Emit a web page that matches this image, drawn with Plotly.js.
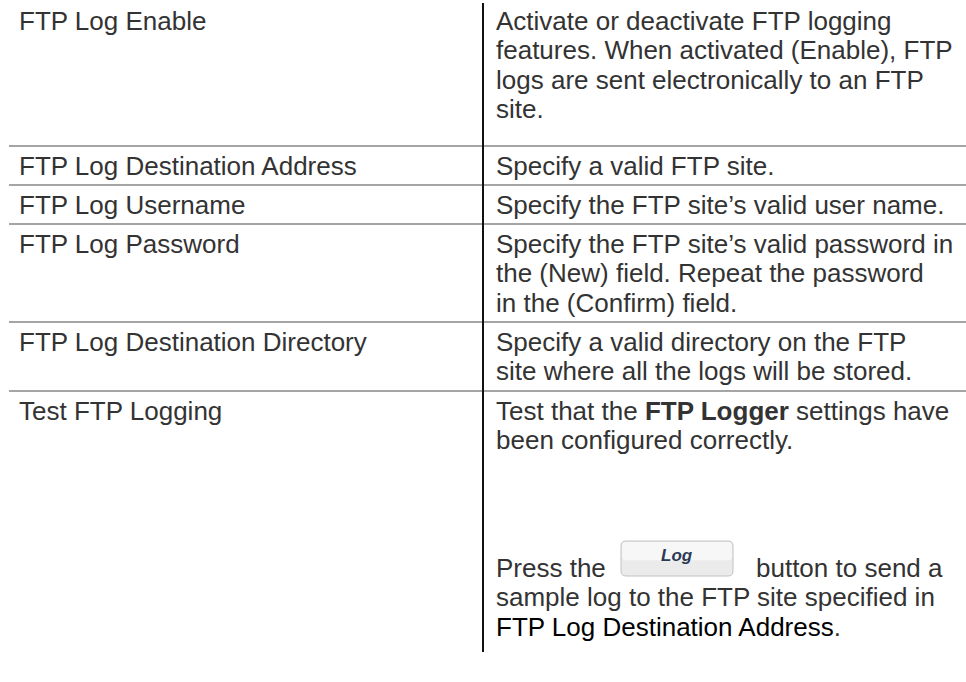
<!DOCTYPE html>
<html>
<head>
<meta charset="utf-8">
<script src="https://cdn.plot.ly/plotly-3.0.1.min.js"></script>
<style>
  html, body { margin: 0; padding: 0; background: #ffffff; }
  #chart { width: 966px; height: 682px; }
</style>
</head>
<body>
<div id="chart"></div>
<script>
// ---- data ----
const parameters = [
  "FTP Log Enable",
  "FTP Log Destination Address",
  "FTP Log Username",
  "FTP Log Password",
  "FTP Log Destination Directory",
  "Test FTP Logging"
];
const descEnable = [
  "Activate or deactivate FTP logging",
  "features. When activated (Enable), FTP",
  "logs are sent electronically to an FTP",
  "site."
];
const descAddress = ["Specify a valid FTP site."];
const descUsername = ["Specify the FTP site\u2019s valid user name."];
const descPassword = [
  "Specify the FTP site\u2019s valid password in",
  "the (New) field. Repeat the password",
  "in the (Confirm) field."
];
const descDirectory = [
  "Specify a valid directory on the FTP",
  "site where all the logs will be stored."
];
const descTest = [
  "Test that the <b>FTP Logger</b> settings have",
  "been configured correctly.",
  "",
  "",
  "",
  "Press the [Log] button to send a",
  "sample log to the FTP site specified in",
  "<span style=\"color:#000000\">FTP Log Destination Address</span>."
];
const descriptions = [descEnable, descAddress, descUsername, descPassword, descDirectory, descTest];
const buttonLabel = "Log";

// ---- layout constants (positions / styles) ----
const W = 966, H = 682;
const FONT = "Liberation Sans, Arial, Helvetica, sans-serif";
const FS = 26;
const TXT = "#333333";
const leftX = 18, rightX = 495;
const lineH = 29.4;
const rowTop = [1, 146, 185, 224, 322, 391];
const firstOffset = 20;
const sepX0 = 9;
const vLineX = 483, vLineY0 = 3, vLineY1 = 652;
const btnExtra = 10;
const btnX0 = 621, btnX1 = 733, btnH = 35, btnR = 5;
const afterBtnX = 755;

const annotations = [];
const shapes = [];

function addText(x, y, text, opts) {
  annotations.push(Object.assign({
    x: x, y: y, xref: "x", yref: "y",
    text: text, showarrow: false,
    xanchor: "left", yanchor: "middle",
    align: "left",
    font: { family: FONT, size: FS, color: TXT },
    borderpad: 0
  }, opts || {}));
}

function roundedRect(x0, y0, x1, y1, r) {
  return "M" + (x0 + r) + "," + y0 +
    " L" + (x1 - r) + "," + y0 +
    " Q" + x1 + "," + y0 + " " + x1 + "," + (y0 + r) +
    " L" + x1 + "," + (y1 - r) +
    " Q" + x1 + "," + y1 + " " + (x1 - r) + "," + y1 +
    " L" + (x0 + r) + "," + y1 +
    " Q" + x0 + "," + y1 + " " + x0 + "," + (y1 - r) +
    " L" + x0 + "," + (y0 + r) +
    " Q" + x0 + "," + y0 + " " + (x0 + r) + "," + y0 + " Z";
}

parameters.forEach(function (p, i) {
  const top = rowTop[i];
  addText(leftX, top + firstOffset, p);
  const lines = descriptions[i];
  const token = "[" + buttonLabel + "]";
  const btnIdx = lines.findIndex(function (l) { return l.indexOf(token) >= 0; });
  lines.forEach(function (ln, k) {
    if (!ln) return;
    const y = top + firstOffset + k * lineH + (btnIdx >= 0 && k >= btnIdx ? btnExtra : 0);
    if (ln.indexOf(token) >= 0) {
      const parts = ln.split(token);
      addText(rightX, y, parts[0].trim());
      addText(afterBtnX, y, parts[1].trim());
      const by1 = y + 8, by0 = by1 - btnH;
      shapes.push({
        type: "path", xref: "x", yref: "y",
        path: roundedRect(btnX0, by0, btnX1, by1, btnR),
        fillcolor: "#ebebeb", line: { color: "#c2c2c2", width: 1 }, layer: "above"
      });
      shapes.push({
        type: "path", xref: "x", yref: "y",
        path: roundedRect(btnX0 + 1, by0 + 1, btnX1 - 1, by0 + btnH * 0.55, btnR - 1),
        fillcolor: "#f7f7f7", line: { width: 0 }, layer: "above"
      });
      addText((btnX0 + btnX1) / 2, by0 + btnH * 0.4, "<b><i>" + buttonLabel + "</i></b>",
        { xanchor: "center", font: { family: FONT, size: 17, color: "#2b3a55" } });
    } else {
      addText(rightX, y, ln);
    }
  });
  if (i > 0) {
    shapes.push({
      type: "line", xref: "x", yref: "y",
      x0: sepX0, x1: W, y0: top, y1: top,
      line: { color: "#4d4d4d", width: 1.2 }
    });
  }
});

shapes.push({
  type: "line", xref: "x", yref: "y",
  x0: vLineX, x1: vLineX, y0: vLineY0, y1: vLineY1,
  line: { color: "#111111", width: 2 }
});

const layout = {
  width: W, height: H,
  margin: { l: 0, r: 0, t: 0, b: 0, pad: 0 },
  paper_bgcolor: "#ffffff", plot_bgcolor: "#ffffff",
  xaxis: { range: [0, W], visible: false, fixedrange: true },
  yaxis: { range: [H, 0], visible: false, fixedrange: true },
  showlegend: false,
  annotations: annotations,
  shapes: shapes
};

Plotly.newPlot("chart", [{ x: [], y: [], type: "scatter", mode: "markers" }], layout,
  { staticPlot: true, displayModeBar: false });
</script>
</body>
</html>
